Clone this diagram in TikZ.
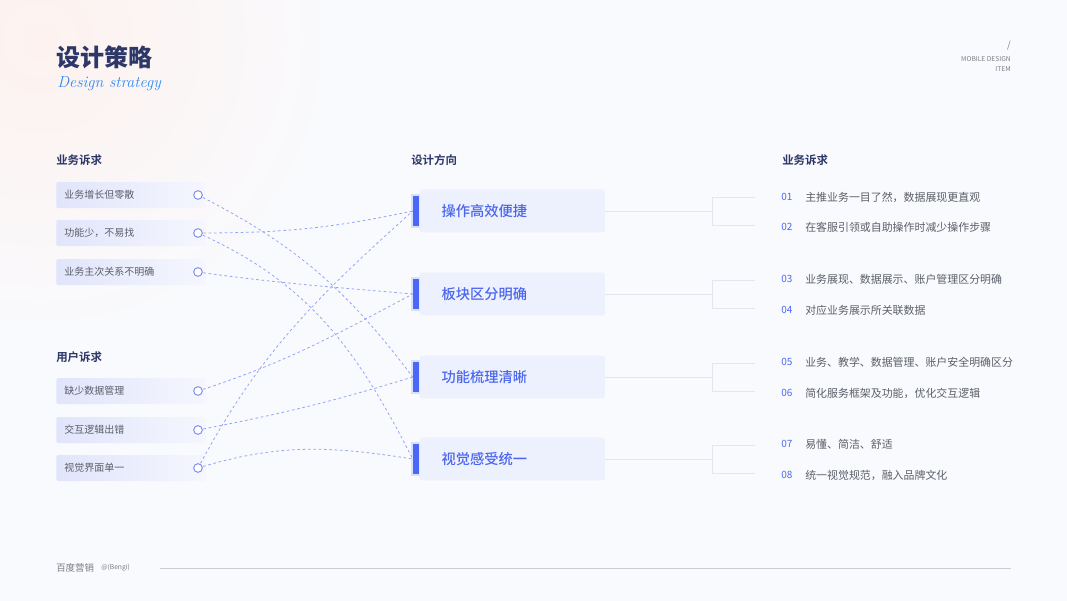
\documentclass[tikz,border=0pt]{standalone}
\usepackage{fontspec}
\setmainfont{Noto Sans CJK SC}[BoldFont={Noto Sans CJK SC Bold}]
\newfontfamily\titlefont{Noto Sans CJK SC Black}
\newfontfamily\medfont{Noto Sans CJK SC Medium}
\newfontfamily\enfont{Latin Modern Roman}
\usetikzlibrary{positioning,calc}
\definecolor{InkNavy}{HTML}{2D3868}
\definecolor{TextGray}{HTML}{5B5F69}
\definecolor{SoftGray}{HTML}{7A7E88}
\definecolor{BarBlue}{HTML}{4A68F5}
\definecolor{GlowBlue}{HTML}{D9E0FD}
\definecolor{DirFill}{HTML}{EDF1FE}
\definecolor{DirText}{HTML}{4B66EE}
\definecolor{ItemTint}{HTML}{E1E5FB}
\definecolor{ItemFade}{HTML}{F5F6FE}
\definecolor{BgBase}{HTML}{F9FAFD}
\definecolor{PinkTint}{HTML}{FDF2EF}
\definecolor{DashBlue}{HTML}{93A4F8}
\definecolor{DotBlue}{HTML}{7688F4}
\definecolor{RuleGray}{HTML}{E3E6EC}
\definecolor{LineGray}{HTML}{C8CCD5}
\definecolor{ScriptBlue}{HTML}{2F8AF2}
\pgfdeclareradialshading{pinkglow}{\pgfpoint{0bp}{0bp}}{color(0bp)=(PinkTint); color(7bp)=(BgBase); color(50bp)=(BgBase)}

\begin{document}
\begin{tikzpicture}[x=0.75pt,y=-0.75pt,
  colhead/.style={anchor=west,inner sep=0pt,font=\bfseries\fontsize{8.6}{10}\selectfont,text=InkNavy},
  need/.style={anchor=west,minimum width=112pt,minimum height=19.5pt,text width=100pt,inner xsep=6pt,inner ysep=0pt,left color=ItemTint,right color=ItemFade,rounded corners=1.5pt,font=\fontsize{7.5}{9}\selectfont,text=TextGray},
  knob/.style={circle,draw=DotBlue,fill=white,line width=0.7pt,minimum size=6.5pt,inner sep=0pt},
  tab/.style={minimum width=4.5pt,minimum height=22pt,inner sep=0pt,fill=BarBlue,preaction={draw=GlowBlue,line width=3pt,rounded corners=1pt}},
  way/.style={minimum width=139pt,minimum height=32pt,text width=106pt,inner xsep=16.5pt,fill=DirFill,rounded corners=2pt,font=\medfont\fontsize{10.7}{12}\selectfont,text=DirText},
  link/.style={DashBlue,line width=0.6pt,dash pattern=on 2pt off 2pt},
  tie/.style={RuleGray,line width=0.6pt},
  num/.style={anchor=west,inner sep=0pt,font=\fontsize{7.5}{9}\selectfont,text=BarBlue},
  goal/.style={anchor=west,inner sep=0pt,font=\fontsize{8.2}{10}\selectfont,text=TextGray}]
\useasboundingbox (0,0) rectangle (1067,600);
% background
\begin{scope}
  \clip (0,0) rectangle (1067,600);
  \shade[shading=pinkglow] (-1030,-1030) rectangle (1110,1110);
\end{scope}

% title block
\node[anchor=west,inner sep=0pt,font=\titlefont\fontsize{18}{20}\selectfont,text=InkNavy] (title) at (56,57) {设计策略};
\node[anchor=west,inner sep=0pt,font=\enfont\itshape\fontsize{12}{14}\selectfont,text=ScriptBlue] (sub) at (57,84) {Design strategy};
\node[anchor=east,inner sep=0pt,font=\fontsize{7}{8}\selectfont,text=SoftGray] (slash) at (1011,46) {/};
\node[anchor=east,inner sep=0pt,align=right,font=\fontsize{5}{7.5}\selectfont,text=SoftGray] (tag) at (1011,64) {MOBILE DESIGN\\ITEM};

% column heads
\node[colhead] (h1) at (56,160) {业务诉求};
\node[colhead] (h2) at (411,160) {设计方向};
\node[colhead] (h3) at (782,160) {业务诉求};
\node[colhead] (h4) at (56,357) {用户诉求};

% needs
\foreach \t/\y [count=\i] in {业务增长但零散/195,功能少，不易找/233,业务主次关系不明确/272,缺少数据管理/391,交互逻辑出错/430,视觉界面单一/468}{
  \node[need] (n\i) at (56,\y) {\t};
}

% directions
\foreach \t/\y [count=\i] in {操作高效便捷/211,板块区分明确/294,功能梳理清晰/377,视觉感受统一/459}{
  \node[tab] (k\i) at (416,\y) {};
  \node[way,right=0pt of k\i] (d\i) {\t};
  \coordinate (j\i) at (712,\y);
  \coordinate (ja\i) at (712,\y-14);
  \coordinate (jb\i) at (712,\y+14);
  \coordinate (sa\i) at (755,\y-14);
  \coordinate (sb\i) at (755,\y+14);
  \draw[tie] (d\i.east) -- (j\i);
  \draw[tie] (ja\i) -- (jb\i);
  \draw[tie] (ja\i) -- (sa\i);
  \draw[tie] (jb\i) -- (sb\i);
}

% links
\foreach \y [count=\i] in {195,233,272,391,430,468}{
  \coordinate (p\i) at (198,\y);
}
\draw[link] (p1) to[out=-27,in=127] (k3.west);
\draw[link] (p2) to[out=0,in=192] (k1.west);
\draw[link] (p2) to[out=-24,in=117] (k4.west);
\draw[link] (p3) to[out=-8,in=175] (k2.west);
\draw[link] (p4) to[out=18,in=208] (k2.west);
\draw[link] (p5) to[out=11,in=197] (k3.west);
\draw[link] (p6) to[out=62,in=222] (k1.west);
\draw[link] (p6) to[out=17,in=171] (k4.west);
\foreach \i in {1,...,6}{
  \node[knob] (c\i) at (p\i) {};
}

% goals
\foreach \n/\t/\y in {01/主推业务一目了然，数据展现更直观/197,02/在客服引领或自助操作时减少操作步骤/227,03/业务展现、数据展示、账户管理区分明确/279,04/对应业务展示所关联数据/310,05/业务、教学、数据管理、账户安全明确区分/362,06/简化服务框架及功能，优化交互逻辑/393,07/易懂、简洁、舒适/444,08/统一视觉规范，融入品牌文化/475}{
  \node[num] (m\n) at (781,\y) {\n};
  \node[goal] (g\n) at (805,\y) {\t};
}

% footer
\node[anchor=west,inner sep=0pt,font=\fontsize{7.1}{8}\selectfont,text=SoftGray] (brand) at (56,568) {百度营销};
\node[anchor=west,inner sep=0pt,font=\fontsize{5}{6}\selectfont,text=SoftGray,right=5pt of brand] (sig) {@(Bengi)};
\coordinate (fa) at (160,568);
\coordinate (fb) at (1011,568);
\draw[LineGray,line width=0.6pt] (fa) -- (fb);
\end{tikzpicture}
\end{document}
